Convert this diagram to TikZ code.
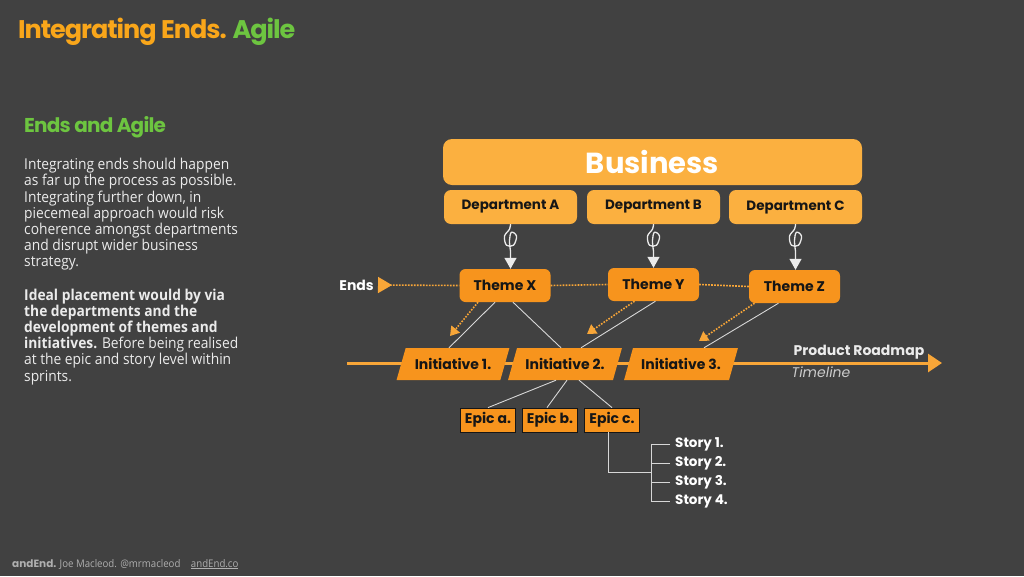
\documentclass[tikz,border=0pt]{standalone}
\usepackage{fontspec}
\setmainfont{Open Sans}
\newfontfamily\headfont{Poppins}
\newfontfamily\titlefont[LetterSpace=-4]{Poppins}
\newfontfamily\bodyfont[FakeStretch=0.92]{Open Sans}
\usetikzlibrary{shapes.geometric,arrows.meta,calc}

\definecolor{bgdark}{RGB}{65,65,65}
\definecolor{bizorange}{RGB}{251,176,64}
\definecolor{themeorange}{RGB}{247,148,29}
\definecolor{lineorange}{RGB}{248,166,56}
\definecolor{titleorange}{RGB}{249,166,26}
\definecolor{agilegreen}{RGB}{109,197,64}
\definecolor{thinwhite}{RGB}{215,215,215}
\definecolor{footgray}{RGB}{175,175,175}
\definecolor{inktext}{RGB}{22,22,22}

\begin{document}
\begin{tikzpicture}[
    x=1pt, y=-1pt,
    deptbox/.style={rectangle, rounded corners=7pt, fill=bizorange, minimum width=133pt, minimum height=34pt, text=inktext, font=\headfont\bfseries\fontsize{13.5}{16}\selectfont},
    themebox/.style={rectangle, rounded corners=6pt, fill=themeorange, minimum width=91pt, minimum height=33pt, text=inktext, font=\headfont\bfseries\fontsize{14}{16}\selectfont},
    initbox/.style={trapezium, trapezium left angle=66, trapezium right angle=114, trapezium stretches=true, fill=themeorange, minimum width=114pt, minimum height=32pt, text=inktext, font=\headfont\bfseries\fontsize{14}{16}\selectfont},
    epicbox/.style={rectangle, fill=themeorange, draw=inktext, line width=0.8pt, minimum width=55pt, minimum height=24pt, inner sep=0pt, text=inktext, font=\headfont\bfseries\fontsize{14}{16}\selectfont},
    storytext/.style={anchor=west, inner xsep=5pt, inner ysep=0pt, text=white, font=\headfont\bfseries\fontsize{13.5}{15}\selectfont},
    curl/.style={draw=white!92!black, line width=1.3pt, -{Triangle[length=11pt,width=12pt]}},
    endsline/.style={draw=lineorange, line width=1.6pt, dash pattern=on 1.6pt off 1.4pt},
    hint/.style={endsline, -{Triangle[length=9pt,width=11pt]}},
    link/.style={draw=thinwhite, line width=0.9pt},
    roadmap/.style={draw=lineorange, line width=3pt, -{Triangle[length=14pt,width=18pt]}}
]
    \fill[bgdark] (0,0) rectangle (1024,576);
    \useasboundingbox (0,0) rectangle (1024,576);

    % Heading and left column
    \node[anchor=base west, inner sep=0pt, font=\titlefont\bfseries\fontsize{25.5}{28}\selectfont] (title) at (18,38)
        {\textcolor{titleorange}{Integrating Ends.} \textcolor{agilegreen}{Agile}};
    \node[anchor=base west, inner sep=0pt, text=agilegreen, font=\titlefont\bfseries\fontsize{20}{22}\selectfont] (subhead) at (24,132) {Ends and Agile};
    \node[anchor=north west, inner sep=0pt, align=left, text=white!92!black, font=\bodyfont\fontsize{15}{16.2}\selectfont] (para) at (24,158)
        {Integrating ends should happen\\
         as far up the process as possible.\\
         Integrating further down, in\\
         piecemeal approach would risk\\
         coherence amongst departments\\
         and disrupt wider business\\
         strategy.\\[17pt]
         \textbf{Ideal placement would by via}\\
         \textbf{the departments and the}\\
         \textbf{development of themes and}\\
         \textbf{initiatives.} Before being realised\\
         at the epic and story level within\\
         sprints.};
    \node[anchor=base west, inner sep=0pt, text=footgray, font=\bodyfont\fontsize{10.5}{13}\selectfont] (foot) at (12,567)
        {{\headfont\bfseries andEnd.} Joe Macleod. @mrmacleod\quad\underline{andEnd.co}};

    % Business and departments
    \node[deptbox, minimum width=419pt, minimum height=46pt, rounded corners=9pt, text=white, font=\headfont\bfseries\fontsize{29}{32}\selectfont] (biz) at (652.5,162) {Business};
    \node[deptbox] (dA) at (510.5,207) {Department A};
    \node[deptbox] (dB) at (653.5,207) {Department B};
    \node[deptbox] (dC) at (795.5,207) {Department C};

    % Themes
    \node[themebox] (thX) at (505,285.5) {Theme X};
    \node[themebox] (thY) at (653.5,284.5) {Theme Y};
    \node[themebox] (thZ) at (794.5,286.5) {Theme Z};

    \foreach \d/\t in {dA/thX, dB/thY, dC/thZ}
        \draw[curl, shift={(\d.south)}] plot[smooth, tension=0.6] coordinates
            {(0,0) (-1,5) (-6,12) (-4,21) (3,21) (6,12) (1,8) (-1,16) (0,27)}
            -- (\t.north -| \d.south);

    % Ends
    \node[anchor=east, inner sep=0pt, text=white, font=\headfont\bfseries\fontsize{14}{16}\selectfont] (ends) at (374,285) {Ends};
    \draw[endsline, {Triangle[reversed,length=14pt,width=16pt]}-] ([xshift=4pt]ends.east) -- (thX.west);
    \draw[endsline] (thX.east) -- (thY.west);
    \draw[endsline] (thY.east) -- (thZ.west);

    % Roadmap
    \coordinate (rmstart) at (347,363);
    \coordinate (rmend) at (942,363);
    \draw[roadmap] (rmstart) -- (rmend);
    \node[text=white!92!black, font=\headfont\bfseries\fontsize{14}{16}\selectfont] (prm) at (859,352) {Product Roadmap};
    \node[text=white!80!black, font=\headfont\itshape\fontsize{14}{16}\selectfont] (tline) at (821,372) {Timeline};

    \node[initbox] (i1) at (453,364) {Initiative 1.};
    \node[initbox] (i2) at (565,364) {Initiative 2.};
    \node[initbox] (i3) at (681,364) {Initiative 3.};

    % Theme to initiative
    \draw[link] ([xshift=-10pt]thX.south) -- ([xshift=-4pt]i1.north);
    \draw[link] ([xshift=8pt]thX.south) -- ([xshift=-4pt]i2.north);
    \draw[link] ([xshift=2pt]thY.south) -- ([xshift=16pt]i2.north);
    \draw[link] ([xshift=-16pt]thZ.south) -- ([xshift=23pt]i3.north);

    \coordinate (hX) at (450,336);
    \coordinate (hY) at (587,334);
    \coordinate (hZ) at (699,341);
    \draw[hint] ([xshift=-27pt]thX.south) -- (hX);
    \draw[hint] ([xshift=-19pt]thY.south) -- (hY);
    \draw[hint] ([xshift=-40pt]thZ.south) -- (hZ);

    % Epics and stories
    \node[epicbox] (epa) at (488,420) {Epic a.};
    \node[epicbox] (epb) at (550,420) {Epic b.};
    \node[epicbox] (epc) at (612,420) {Epic c.};
    \draw[link] ([xshift=-9pt]i2.south) -- (epa.north);
    \draw[link] ([xshift=2pt]i2.south) -- ([xshift=-3pt]epb.north);
    \draw[link] ([xshift=14pt]i2.south) -- (epc.north);

    \foreach \s/\y in {1/444, 2/463, 3/482, 4/501}
        \node[storytext] (s\s) at (670,\y) {Story \s.};
    \draw[link] (s1.west) -- ++(-19,0) |- (s4.west);
    \draw[link] (s2.west) -- ++(-19,0);
    \draw[link] (s3.west) -- ++(-19,0);
    \draw[link] ([xshift=-4pt]epc.south) |- ([xshift=-19pt]$(s2.west)!.5!(s3.west)$);
\end{tikzpicture}
\end{document}
